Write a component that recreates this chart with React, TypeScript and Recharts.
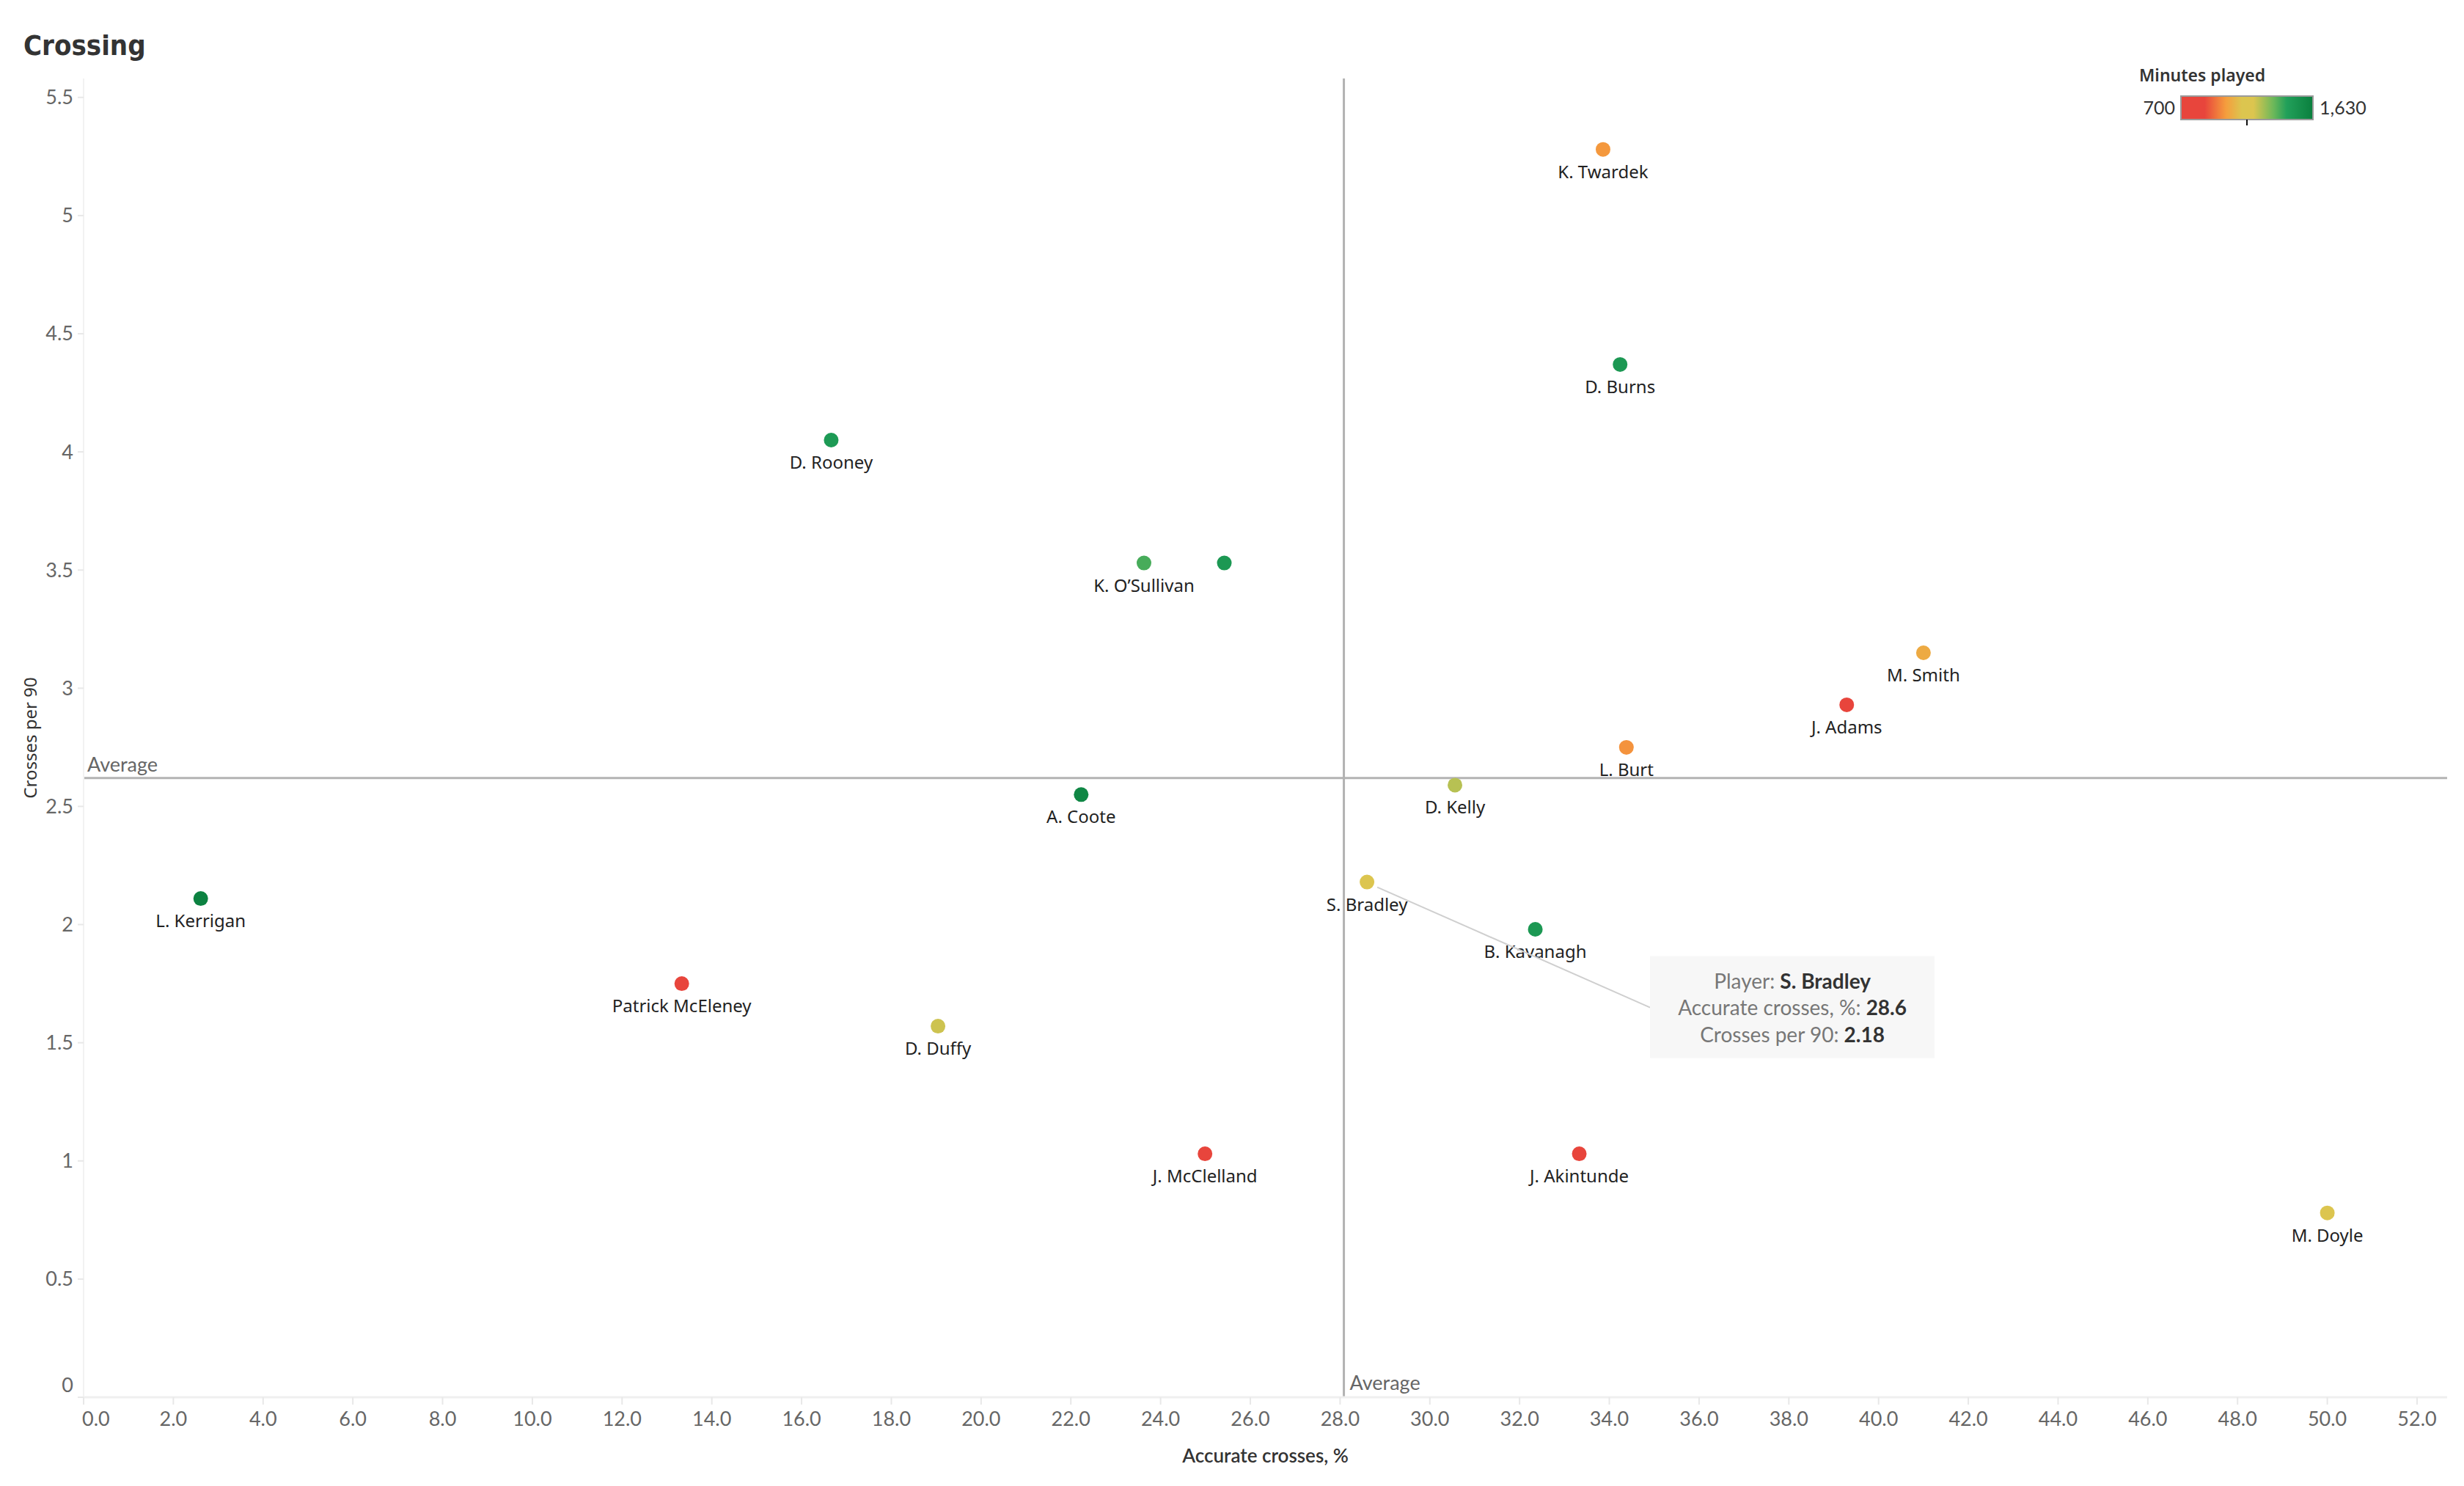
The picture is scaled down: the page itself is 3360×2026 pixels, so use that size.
import { ScatterChart, Scatter, XAxis, YAxis, ReferenceLine, ReferenceDot } from 'recharts'

const players = [
  'K. Twardek', 'D. Burns', 'D. Rooney', 'K. O’Sullivan', '', 'M. Smith',
  'J. Adams', 'L. Burt', 'D. Kelly', 'A. Coote', 'S. Bradley', 'L. Kerrigan',
  'B. Kavanagh', 'Patrick McEleney', 'D. Duffy', 'J. McClelland', 'J. Akintunde', 'M. Doyle',
]
const accurateCrosses = [
  33.86, 34.24, 16.66, 23.63, 25.42, 41.0, 39.29, 34.38, 30.56, 22.23, 28.6, 2.61,
  32.35, 13.33, 19.04, 24.99, 33.33, 50.0,
]
const crossesPer90 = [
  5.28, 4.37, 4.05, 3.53, 3.53, 3.15, 2.93, 2.75, 2.59, 2.55, 2.18, 2.11,
  1.98, 1.75, 1.57, 1.03, 1.03, 0.78,
]
const minutesPlayed = [
  1007, 1490, 1480, 1398, 1490, 1053, 780, 1000, 1258, 1584, 1165, 1611,
  1490, 780, 1230, 780, 780, 1160,
]
const xTicks = [0, 2, 4, 6, 8, 10, 12, 14, 16, 18, 20, 22, 24, 26, 28, 30, 32, 34, 36, 38, 40, 42, 44, 46, 48, 50, 52]
const yTicks = [0, 0.5, 1, 1.5, 2, 2.5, 3, 3.5, 4, 4.5, 5, 5.5]
const minutesRange = [700, 1630]
const highlighted = 'S. Bradley'

// red -> orange -> gold -> green palette, as fractions of the minutes range
const colorStops: [number, string][] = [
  [0, '#e8453c'],
  [0.18, '#e8453c'],
  [0.34, '#f59d3d'],
  [0.46, '#dcc54f'],
  [0.55, '#dcc54f'],
  [0.7, '#6db85a'],
  [0.8, '#22a05a'],
  [1, '#0a7f3e'],
]

const data = players.map((name, i) => ({
  name,
  x: accurateCrosses[i],
  y: crossesPer90[i],
  minutes: minutesPlayed[i],
}))

const avgX = accurateCrosses.reduce((a, b) => a + b, 0) / accurateCrosses.length
const avgY = crossesPer90.reduce((a, b) => a + b, 0) / crossesPer90.length

const LABEL_FONT = "'Noto Sans', 'Open Sans', sans-serif"
const TICK_FONT = "Lato, 'Noto Sans', sans-serif"

function hexToRgb(hex: string) {
  const n = parseInt(hex.slice(1), 16)
  return [(n >> 16) & 255, (n >> 8) & 255, n & 255]
}

function colorFor(minutes: number) {
  const f = Math.max(0, Math.min(1, (minutes - minutesRange[0]) / (minutesRange[1] - minutesRange[0])))
  for (let i = 1; i < colorStops.length; i++) {
    const [f1, c1] = colorStops[i]
    const [f0, c0] = colorStops[i - 1]
    if (f <= f1) {
      const t = f1 === f0 ? 0 : (f - f0) / (f1 - f0)
      const a = hexToRgb(c0)
      const b = hexToRgb(c1)
      const rgb = a.map((v, k) => Math.round(v + (b[k] - v) * t))
      return `rgb(${rgb.join(',')})`
    }
  }
  return colorStops[colorStops.length - 1][1]
}

function PlayerDot(props: any) {
  const { cx, cy, payload } = props
  return (
    <g>
      <circle cx={cx} cy={cy} r={10} fill={colorFor(payload.minutes)} />
      {payload.name && (
        <text x={cx} y={cy + 39} textAnchor="middle" fontSize={24} fontFamily={LABEL_FONT} fill="#222">
          {payload.name}
        </text>
      )}
    </g>
  )
}

function XTick(props: any) {
  const { x, y, payload } = props
  const first = payload.value === xTicks[0]
  return (
    <text x={first ? x - 2 : x} y={y - 2} dy="0.71em" textAnchor={first ? 'start' : 'middle'} fontSize={27} fontFamily={TICK_FONT} fill="#666">
      {Number(payload.value).toFixed(1)}
    </text>
  )
}

function YTick(props: any) {
  const { x, y, payload } = props
  const first = payload.value === yTicks[0]
  return (
    <text x={x} y={first ? y - 16 : y} dy="0.35em" textAnchor="end" fontSize={27} fontFamily={TICK_FONT} fill="#666">
      {String(payload.value)}
    </text>
  )
}

function XTitle(props: any) {
  const { viewBox } = props
  return (
    <text x={viewBox.x + viewBox.width / 2} y={viewBox.y + 89} textAnchor="middle" fontSize={26} fontWeight={600} fontFamily={TICK_FONT} fill="#333">
      Accurate crosses, %
    </text>
  )
}

function YTitle(props: any) {
  const { viewBox } = props
  const cy = viewBox.y + viewBox.height / 2
  return (
    <text transform={`translate(50, ${cy}) rotate(-90)`} textAnchor="middle" fontSize={24} fontFamily={LABEL_FONT} fill="#333">
      Crosses per 90
    </text>
  )
}

function AvgLabel(props: any) {
  const { viewBox, vertical } = props
  if (vertical) {
    return (
      <text x={viewBox.x + 8} y={viewBox.y + viewBox.height - 10} fontSize={27} fontFamily={TICK_FONT} fill="#666">
        Average
      </text>
    )
  }
  return (
    <text x={viewBox.x + 5} y={viewBox.y - 9} fontSize={27} fontFamily={TICK_FONT} fill="#666">
      Average
    </text>
  )
}

function Callout(props: any) {
  const { cx, cy } = props
  const p = data.find((d) => d.name === highlighted)!
  const bx = cx + 386
  const by = cy + 101
  const mid = bx + 194
  return (
    <g fontFamily={TICK_FONT} fontSize={28} textAnchor="middle">
      <line x1={cx + 14} y1={cy + 7} x2={bx} y2={cy + 171} stroke="#cfcfcf" strokeWidth={2} />
      <rect x={bx} y={by} width={388} height={139} fill="#f7f7f7" />
      <text x={mid} y={cy + 145}>
        <tspan fill="#777">Player: </tspan>
        <tspan fill="#333" fontWeight={700}>{p.name}</tspan>
      </text>
      <text x={mid} y={cy + 181}>
        <tspan fill="#777">Accurate crosses, %: </tspan>
        <tspan fill="#333" fontWeight={700}>{p.x.toFixed(1)}</tspan>
      </text>
      <text x={mid} y={cy + 218}>
        <tspan fill="#777">Crosses per 90: </tspan>
        <tspan fill="#333" fontWeight={700}>{p.y.toFixed(2)}</tspan>
      </text>
    </g>
  )
}

function MinutesLegend() {
  return (
    <svg width={460} height={120} style={{ position: 'absolute', left: 2880, top: 70 }}>
      <defs>
        <linearGradient id="minutesGrad" x1="0" x2="1" y1="0" y2="0">
          {colorStops.map(([f, c], i) => (
            <stop key={i} offset={f} stopColor={c} />
          ))}
        </linearGradient>
      </defs>
      <text x={37} y={41} fontSize={23} fontWeight={600} fontFamily={LABEL_FONT} fill="#333">
        Minutes played
      </text>
      <rect x={94} y={61} width={180} height={32} fill="url(#minutesGrad)" stroke="#9a9a9a" strokeWidth={2} />
      <line x1={184} x2={184} y1={93} y2={101} stroke="#111" strokeWidth={2} />
      <text x={86} y={86} textAnchor="end" fontSize={25} fontFamily={TICK_FONT} fill="#333">
        {minutesRange[0]}
      </text>
      <text x={283} y={86} fontSize={25} fontFamily={TICK_FONT} fill="#333">
        {minutesRange[1].toLocaleString('en-US')}
      </text>
    </svg>
  )
}

export default function App() {
  return (
    <div style={{ position: 'absolute', left: 0, top: 0, width: 3360, height: 2026, background: '#fff' }}>
      <div
        style={{
          position: 'absolute',
          left: 32,
          top: 40,
          fontSize: 38,
          fontWeight: 700,
          fontFamily: "'DejaVu Sans Condensed', 'DejaVu Sans', sans-serif",
          fontStretch: 'condensed',
          color: '#333',
        }}
      >
        Crossing
      </div>
      <MinutesLegend />
      <div style={{ position: 'absolute', left: 0, top: 0 }}>
        <ScatterChart width={3360} height={2026} margin={{ top: 107, right: 23, bottom: 0, left: 0 }}>
          <XAxis
            type="number"
            dataKey="x"
            domain={[0, 52.67]}
            ticks={xTicks}
            allowDataOverflow
            height={121}
            axisLine={{ stroke: '#efefef', strokeWidth: 3 }}
            tickLine={{ stroke: '#e8e8e8', strokeWidth: 2 }}
            tickSize={10}
            tickMargin={12}
            tick={<XTick />}
            label={<XTitle />}
          />
          <YAxis
            type="number"
            dataKey="y"
            domain={[0, 5.58]}
            ticks={yTicks}
            allowDataOverflow
            width={114}
            axisLine={{ stroke: '#f2f2f2', strokeWidth: 2 }}
            tickLine={{ stroke: '#e8e8e8', strokeWidth: 2 }}
            tickSize={8}
            tickMargin={6}
            tick={<YTick />}
            label={<YTitle />}
          />
          <ReferenceLine x={avgX} stroke="#b3b3b3" strokeWidth={3} label={<AvgLabel vertical />} />
          <ReferenceLine y={avgY} stroke="#b3b3b3" strokeWidth={3} label={<AvgLabel />} />
          <Scatter data={data} shape={<PlayerDot />} isAnimationActive={false} />
          <ReferenceDot
            x={data.find((d) => d.name === highlighted)!.x}
            y={data.find((d) => d.name === highlighted)!.y}
            shape={(p: any) => <Callout {...p} />}
          />
        </ScatterChart>
      </div>
    </div>
  )
}
